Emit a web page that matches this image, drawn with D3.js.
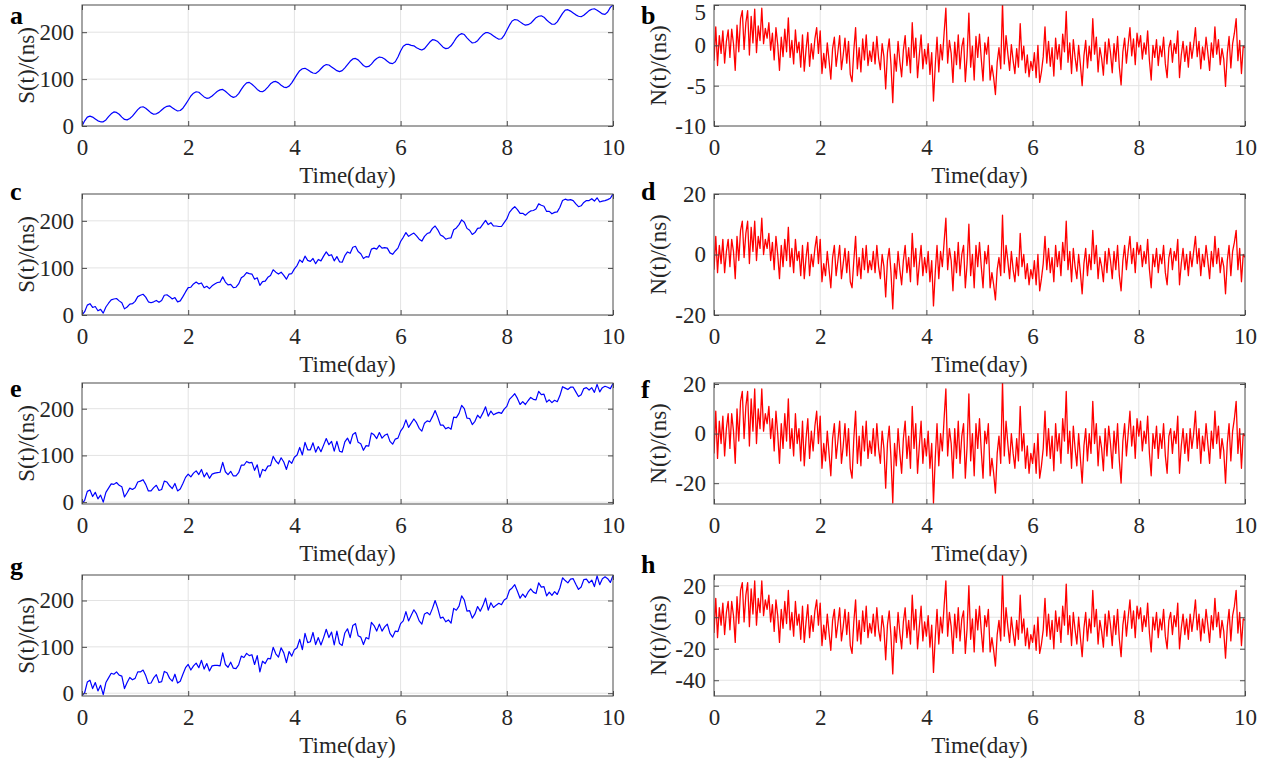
<!DOCTYPE html>
<html><head><meta charset="utf-8">
<script src="https://cdn.jsdelivr.net/npm/d3@7"></script>
<style>
body{margin:0;background:#fff}
svg{display:block}
text{font-family:"Liberation Serif","Times New Roman",serif}
</style>
</head><body>
<svg id="chart" width="1278" height="765"></svg>
<script>
// ---------- data ----------
const timeDomain = [0, 10];
const xTicks = [0, 2, 4, 6, 8, 10];
const sTicks = [0, 100, 200];
const bTicks = [-10, -5, 0, 5];
const dTicks = [-20, 0, 20];
const fTicks = [-20, 0, 20];
const hTicks = [-40, -20, 0, 20];

// S(t) panels, sampled every 0.05 day
const seriesA = [0,11,19,21,19,15,11,9,9,13,20,26,30,29,25,19,14,13,16,21,28,35,40,41,38,33,28,25,26,29,34,39,42,43,39,35,32,33,38,46,55,64,70,73,72,67,62,59,60,64,69,74,77,78,74,69,64,61,63,69,78,86,92,93,89,84,78,74,73,77,83,90,94,95,92,87,83,82,85,92,101,110,118,122,123,120,116,113,112,116,122,128,131,130,126,122,118,116,118,124,131,138,143,144,141,135,129,126,127,132,139,144,147,146,143,138,134,133,137,147,160,170,174,174,172,171,167,164,162,165,172,179,184,183,180,174,168,165,166,171,179,188,194,197,195,188,182,177,178,182,189,195,199,199,196,192,188,185,186,193,204,215,224,227,226,222,218,215,216,219,225,231,234,235,232,226,221,217,217,222,231,240,247,248,245,241,237,234,233,236,241,246,249,250,247,243,239,238,243,253,258];
const seriesC = [0,7,21,24,16,18,9,12,4,17,25,32,34,35,30,26,13,17,23,24,29,39,42,44,38,28,26,28,31,27,31,42,43,39,34,37,28,30,39,49,58,59,66,70,66,68,58,61,56,62,66,69,70,81,70,64,65,58,59,66,79,83,90,88,87,76,79,63,71,72,80,84,96,91,87,91,84,76,87,88,98,105,117,112,125,116,114,120,109,118,115,125,134,126,128,115,124,113,112,126,134,131,144,146,135,130,120,124,123,140,142,140,148,142,143,142,132,129,136,142,156,165,175,167,171,174,168,161,157,167,173,175,184,189,181,170,167,161,163,164,181,185,192,202,197,184,180,171,175,184,185,193,201,192,196,189,189,188,188,196,204,218,225,230,224,216,216,212,217,221,222,225,236,233,231,220,220,215,218,219,229,243,246,244,245,243,236,230,232,239,243,243,247,242,249,240,242,243,245,248,257];
const seriesE = [-3,4,23,26,12,21,7,15,0,21,30,39,38,42,36,33,11,20,30,27,31,43,45,48,38,24,24,31,36,25,27,45,43,35,29,40,24,28,40,53,60,54,62,67,59,70,54,63,51,60,62,63,64,85,65,59,66,56,56,63,79,79,87,84,85,68,80,53,70,67,77,78,98,88,82,95,86,70,89,83,96,101,117,101,128,112,112,127,107,119,108,122,136,123,130,109,130,109,107,129,137,125,145,149,128,125,111,121,120,148,144,136,149,137,143,146,130,124,135,137,152,160,176,160,169,178,170,158,152,169,174,172,183,196,182,165,165,157,160,156,182,181,190,207,200,180,179,166,173,186,180,191,204,184,195,187,190,192,190,199,205,220,226,232,222,209,215,209,217,224,220,219,237,230,231,214,219,213,218,215,228,247,244,241,246,246,236,226,230,243,245,240,245,235,252,236,245,248,246,243,254];
const seriesG = [-5,1,24,28,10,23,5,17,-3,23,33,43,41,46,39,37,10,23,34,29,32,46,46,50,38,21,22,33,40,23,25,47,44,32,26,41,22,26,41,55,62,50,59,65,55,71,52,64,48,59,60,60,59,87,62,56,67,54,53,61,80,77,86,81,83,62,81,46,69,64,75,74,99,85,78,98,87,66,90,80,94,98,116,94,129,109,111,131,105,120,104,120,138,120,132,104,134,107,103,130,139,120,146,150,124,121,105,120,117,153,146,134,149,134,143,149,129,121,134,133,150,156,176,156,168,180,171,156,149,171,174,169,183,200,183,162,164,154,158,151,183,179,188,210,201,177,178,162,171,187,177,189,205,179,195,185,190,194,191,201,205,222,227,234,220,205,214,207,218,225,218,215,238,229,230,210,218,211,219,213,227,249,243,238,246,247,235,224,229,245,246,238,244,230,253,234,247,251,247,239,254];

// N(t) panels, sampled every 1/30 day
const seriesB = [-1.9,2.3,-2.5,1.2,-1.0,1.8,-2.2,0.5,1.9,-1.5,2.0,0.2,-3.1,2.5,-0.8,3.3,4.3,-0.5,2.8,4.3,-1.2,3.6,0.3,4.5,-0.9,2.4,0.6,4.6,0.2,2.1,
0.9,2.8,-0.6,1.5,-1.8,2.2,0.1,-3.1,1.0,-1.4,2.0,-0.8,3.4,-1.5,0.6,-2.3,1.9,-0.9,0.4,-2.7,1.3,-3.2,-0.5,1.6,-2.6,0.2,-1.7,0.8,2.2,-1.0,
1.8,-3.5,-1.0,-2.8,0.3,-1.9,-4.2,-0.4,1.0,-2.6,-0.8,1.2,-3.0,-1.2,0.9,-2.2,0.5,-3.6,-4.5,-0.6,2.2,-2.9,-0.3,-3.3,0.8,-1.8,1.3,-2.5,-0.7,-2.0,
0.4,-2.3,1.1,-1.6,-3.0,0.2,-1.4,-5.4,-0.9,0.8,-2.4,-7.1,-1.1,-3.2,0.5,-2.0,-3.9,-0.6,1.2,-2.5,-0.3,-3.4,2.8,-1.5,0.9,-4.0,-1.2,1.3,-2.9,-0.5,
-2.3,0.2,-3.6,-0.9,-6.9,-2.5,1.0,-3.3,0.1,-1.8,1.5,4.6,-2.2,0.6,-1.0,-4.6,0.4,-2.4,1.3,-2.9,-0.2,0.9,-4.5,-1.3,4.0,-2.7,-0.1,-4.3,1.1,-1.5,
1.4,-1.7,-4.4,0.3,-1.1,1.0,-4.3,-2.5,-4.0,-6.1,-2.1,-0.3,-2.9,5.3,-2.3,1.2,-1.0,-3.1,0.1,-1.9,-3.5,-0.4,-2.7,2.7,-1.8,-0.1,-3.4,-1.2,-3.9,-2.0,
-3.1,-0.9,-4.0,0.0,-4.6,-3.3,-1.4,2.3,-2.2,0.5,-2.6,-0.3,-3.8,0.9,-1.7,0.1,-3.0,1.4,-0.8,4.2,-2.1,0.3,-3.5,0.7,-1.5,-3.2,0.0,-2.4,-5.0,-1.3,
0.6,-2.8,-0.1,-1.9,3.3,-1.1,1.0,-3.3,-0.3,-1.6,-3.7,0.4,-2.3,0.8,-0.9,-3.4,0.2,-2.0,1.1,-2.7,-4.9,-0.8,0.9,-2.2,0.1,2.2,-1.3,0.8,-2.4,1.5,
-0.2,1.2,-1.7,0.3,-1.1,1.8,-1.9,-4.3,0.0,-1.5,0.7,-2.5,-0.1,-1.4,1.0,-2.3,-4.0,-0.3,0.6,-2.1,0.2,-1.0,1.8,-4.0,-1.2,0.5,-2.0,-0.1,-2.7,0.4,
-1.6,0.1,2.2,-1.4,0.5,-2.9,-0.2,-1.8,1.0,-0.9,-3.1,0.3,-1.5,2.3,-1.1,0.7,-2.4,-0.4,-1.7,-5.1,-1.0,1.1,-2.8,0.2,1.5,3.3,-1.9,0.6,-3.5,-0.1,-0.3];
const seriesD = [-5,6,-6,3,-3,5,-6,1,5,-4,5,1,-8,6,-2,8,11,-1,7,11,-3,9,1,11,-2,6,2,12,0,5,
2,7,-2,4,-5,6,0,-8,3,-4,5,-2,9,-4,2,-6,5,-2,1,-7,3,-8,-1,4,-7,0,-4,2,6,-3,
5,-9,-3,-7,1,-5,-11,-1,3,-7,-2,3,-8,-3,2,-6,1,-9,-11,-2,6,-7,-1,-8,2,-5,3,-6,-2,-5,
1,-6,3,-4,-8,0,-4,-14,-2,2,-6,-18,-3,-8,1,-5,-10,-2,3,-6,-1,-9,7,-4,2,-10,-3,3,-7,-1,
-6,1,-9,-2,-17,-6,3,-8,1,-4,4,12,-5,2,-2,-12,1,-6,4,-7,0,3,-11,-3,10,-7,0,-11,3,-4,
4,-4,-11,1,-3,3,-11,-6,-10,-15,-5,-1,-7,13,-6,3,-2,-8,1,-5,-9,-1,-7,7,-4,0,-8,-3,-10,-5,
-8,-2,-10,0,-12,-8,-3,6,-5,2,-6,-1,-9,3,-4,1,-7,4,-2,11,-5,1,-9,2,-4,-8,0,-6,-13,-3,
2,-7,0,-5,8,-3,3,-8,-1,-4,-9,1,-6,2,-2,-8,1,-5,3,-7,-12,-2,3,-5,1,6,-3,2,-6,4,
0,3,-4,1,-3,5,-5,-11,0,-4,2,-6,0,-3,3,-6,-10,-1,2,-5,1,-2,5,-10,-3,2,-5,0,-7,1,
-4,1,6,-3,2,-7,0,-4,3,-2,-8,1,-4,6,-3,2,-6,-1,-4,-13,-2,3,-7,1,4,8,-5,2,-9,0,-1];
const seriesF = [-8,9,-10,5,-4,7,-9,2,8,-6,8,1,-12,10,-3,13,17,-2,11,17,-5,14,1,18,-4,10,2,18,1,8,
4,11,-2,6,-7,9,0,-12,4,-6,8,-3,14,-6,2,-9,8,-4,2,-11,5,-13,-2,6,-10,1,-7,3,9,-4,
7,-14,-4,-11,1,-8,-17,-2,4,-10,-3,5,-12,-5,4,-9,2,-14,-18,-2,9,-12,-1,-13,3,-7,5,-10,-3,-8,
2,-9,4,-6,-12,1,-6,-22,-4,3,-10,-28,-4,-13,2,-8,-16,-2,5,-10,-1,-14,11,-6,4,-16,-5,5,-12,-2,
-9,1,-14,-4,-28,-10,4,-13,0,-7,6,18,-9,2,-4,-18,2,-10,5,-12,-1,4,-18,-5,16,-11,0,-17,4,-6,
6,-7,-18,1,-4,4,-17,-10,-16,-24,-8,-1,-12,21,-9,5,-4,-12,0,-8,-14,-2,-11,11,-7,0,-14,-5,-16,-8,
-12,-4,-16,0,-18,-13,-6,9,-9,2,-10,-1,-15,4,-7,0,-12,6,-3,17,-8,1,-14,3,-6,-13,0,-10,-20,-5,
2,-11,0,-8,13,-4,4,-13,-1,-6,-15,2,-9,3,-4,-14,1,-8,4,-11,-20,-3,4,-9,0,9,-5,3,-10,6,
-1,5,-7,1,-4,7,-8,-17,0,-6,3,-10,0,-6,4,-9,-16,-1,2,-8,1,-4,7,-16,-5,2,-8,0,-11,2,
-6,0,9,-6,2,-12,-1,-7,4,-4,-12,1,-6,9,-4,3,-10,-2,-7,-20,-4,4,-11,1,6,13,-8,2,-14,0,-1];
const seriesH = [-10,12,-13,6,-5,9,-11,3,10,-8,10,1,-16,13,-4,17,22,-3,14,22,-6,18,2,23,-5,12,3,23,1,11,
5,14,-3,8,-9,11,1,-16,5,-7,10,-4,17,-8,3,-12,10,-5,2,-14,7,-16,-3,8,-13,1,-9,4,11,-5,
9,-18,-5,-14,2,-10,-21,-2,5,-13,-4,6,-15,-6,5,-11,3,-18,-23,-3,11,-15,-2,-17,4,-9,7,-13,-4,-10,
2,-12,6,-8,-15,1,-7,-27,-5,4,-12,-36,-6,-16,3,-10,-20,-3,6,-13,-2,-17,14,-8,5,-20,-6,7,-15,-3,
-12,1,-19,-5,-35,-13,5,-17,0,-10,7,23,-12,3,-6,-23,2,-13,6,-15,-1,4,-23,-7,20,-14,-1,-22,5,-8,
7,-9,-22,1,-6,5,-22,-13,-21,-31,-11,-2,-15,27,-12,6,-6,-16,0,-10,-18,-2,-14,14,-10,-1,-18,-7,-20,-11,
-16,-5,-21,0,-23,-17,-8,12,-12,2,-14,-2,-20,4,-9,0,-16,7,-5,21,-11,1,-18,3,-8,-17,0,-13,-25,-7,
3,-15,-1,-10,17,-6,5,-17,-2,-9,-19,2,-12,4,-5,-18,1,-11,5,-14,-25,-5,4,-12,0,11,-7,4,-13,7,
-1,6,-9,1,-6,9,-10,-22,0,-8,3,-13,-1,-8,5,-12,-20,-2,3,-11,1,-6,9,-20,-7,2,-11,-1,-14,2,
-9,0,11,-8,2,-15,-1,-10,5,-5,-16,1,-8,12,-6,3,-13,-2,-9,-26,-6,5,-15,1,7,17,-10,3,-18,-1,-2];

const panelLetters = ['a','b','c','d','e','f','g','h'];
const xLabel = 'Time(day)';
const sLabel = 'S(t)/(ns)';
const nLabel = 'N(t)/(ns)';

// ---------- layout ----------
const colX = [82, 714];
const rowY = [5, 194, 383, 575];
const plotW = 531, plotH = 121;
const letterY = [[24, 24], [200, 200], [397, 398], [575, 573]];
const letterX = [10, 641];
const blue = '#0000ff', red = '#ff0000';

const panels = [
  {values: seriesA, color: blue, yDomain: [0, 258],     yTicks: sTicks, yLabel: sLabel},
  {values: seriesB, color: red,  yDomain: [-10, 5],     yTicks: bTicks, yLabel: nLabel},
  {values: seriesC, color: blue, yDomain: [0, 257],     yTicks: sTicks, yLabel: sLabel},
  {values: seriesD, color: red,  yDomain: [-20, 20],    yTicks: dTicks, yLabel: nLabel},
  {values: seriesE, color: blue, yDomain: [-4, 255],    yTicks: sTicks, yLabel: sLabel},
  {values: seriesF, color: red,  yDomain: [-28.4, 20.4],yTicks: fTicks, yLabel: nLabel},
  {values: seriesG, color: blue, yDomain: [-6, 255],    yTicks: sTicks, yLabel: sLabel},
  {values: seriesH, color: red,  yDomain: [-50, 26.8],  yTicks: hTicks, yLabel: nLabel}
];

const svg = d3.select('#chart');
const defs = svg.append('defs');
const axisColor = '#4a4a4a';
const textColor = '#262626';
const gridColor = '#e3e3e3';
const fontSize = 23;

panels.forEach((p, i) => {
  const col = i % 2, row = Math.floor(i / 2);
  const x0 = colX[col], y0 = rowY[row];
  const times = d3.range(p.values.length).map(j => timeDomain[0] + j * (timeDomain[1] - timeDomain[0]) / (p.values.length - 1));
  const x = d3.scaleLinear().domain(timeDomain).range([0, plotW]);
  const y = d3.scaleLinear().domain(p.yDomain).range([plotH, 0]);
  const g = svg.append('g').attr('transform', `translate(${x0},${y0})`);

  defs.append('clipPath').attr('id', 'clip' + i)
    .append('rect').attr('x', 0).attr('y', 0).attr('width', plotW).attr('height', plotH);

  // grid
  g.append('g').selectAll('line')
    .data(xTicks.filter(t => t > timeDomain[0] && t < timeDomain[1])).join('line')
    .attr('x1', d => x(d)).attr('x2', d => x(d)).attr('y1', 0).attr('y2', plotH)
    .attr('stroke', gridColor).attr('stroke-width', 1);
  g.append('g').selectAll('line')
    .data(p.yTicks.filter(t => t > p.yDomain[0] && t < p.yDomain[1])).join('line')
    .attr('x1', 0).attr('x2', plotW).attr('y1', d => y(d)).attr('y2', d => y(d))
    .attr('stroke', gridColor).attr('stroke-width', 1);

  // series
  const line = d3.line().x((d, j) => x(times[j])).y(d => y(d));
  g.append('path').datum(p.values)
    .attr('clip-path', `url(#clip${i})`)
    .attr('fill', 'none').attr('stroke', p.color)
    .attr('stroke-width', p.color === red ? 1.3 : 1.2)
    .attr('stroke-linejoin', 'round')
    .attr('d', line);

  // axes
  const styleAxis = sel => {
    sel.select('.domain').remove();
    sel.selectAll('.tick line').attr('stroke', axisColor);
    sel.selectAll('.tick text').attr('fill', textColor)
      .style('font-size', fontSize + 'px')
      .style('font-family', '"Liberation Serif","Times New Roman",serif');
  };
  g.append('g').attr('transform', `translate(0,${plotH})`)
    .call(d3.axisBottom(x).tickValues(xTicks).tickSizeInner(-5).tickSizeOuter(0).tickPadding(13).tickFormat(d => String(d)))
    .call(styleAxis);
  g.append('g')
    .call(d3.axisTop(x).tickValues(xTicks).tickSizeInner(-5).tickSizeOuter(0).tickFormat(''))
    .call(styleAxis);
  g.append('g')
    .call(d3.axisLeft(y).tickValues(p.yTicks).tickSizeInner(-5).tickSizeOuter(0).tickPadding(8).tickFormat(d => String(d)))
    .call(styleAxis)
    .call(sel => sel.selectAll('.tick text')
      .attr('transform', d => `translate(0,${Math.max(0, 12 - (y0 + y(d)))})`));
  g.append('g').attr('transform', `translate(${plotW},0)`)
    .call(d3.axisRight(y).tickValues(p.yTicks).tickSizeInner(-5).tickSizeOuter(0).tickFormat(''))
    .call(styleAxis);

  // box
  g.append('rect').attr('x', 0).attr('y', 0).attr('width', plotW).attr('height', plotH)
    .attr('fill', 'none').attr('stroke', axisColor).attr('stroke-width', 1);

  // labels
  g.append('text')
    .attr('x', plotW / 2).attr('y', plotH + 57)
    .attr('text-anchor', 'middle').attr('fill', textColor)
    .style('font-size', fontSize + 'px')
    .text(xLabel);
  g.append('text')
    .attr('transform', `translate(-48,${plotH / 2}) rotate(-90)`)
    .attr('text-anchor', 'middle').attr('fill', textColor)
    .style('font-size', fontSize + 'px')
    .text(p.yLabel);

  svg.append('text')
    .attr('x', letterX[col]).attr('y', letterY[row][col])
    .attr('fill', '#000').attr('font-weight', 'bold')
    .style('font-size', '26px')
    .text(panelLetters[i]);
});
</script>
</body></html>
